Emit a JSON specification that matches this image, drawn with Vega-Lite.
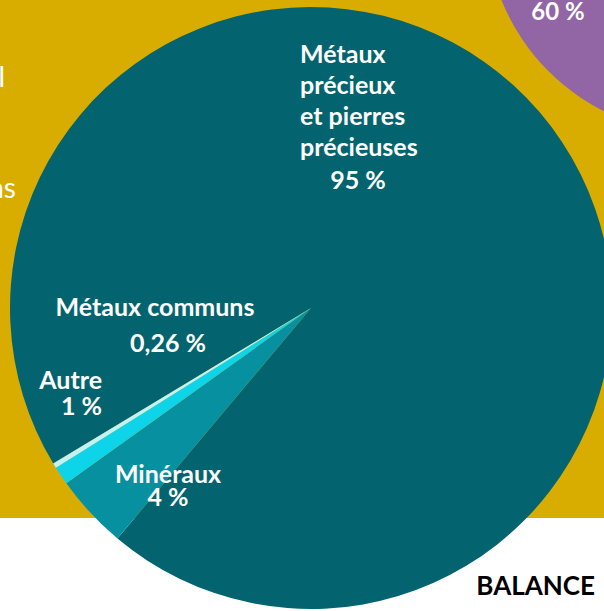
{
  "$schema": "https://vega.github.io/schema/vega-lite/v6.json",
  "width": 604,
  "height": 611,
  "autosize": {"type": "fit", "contains": "padding"},
  "padding": 0,
  "background": "white",
  "config": {"view": {"stroke": null}, "text": {"font": "Lato", "fontWeight": "bold", "fill": "white", "fontSize": 25}},
  "data": {"values": [
    {"category": "Métaux précieux et pierres précieuses", "value": 95},
    {"category": "Minéraux", "value": 4},
    {"category": "Autre", "value": 1},
    {"category": "Métaux communs", "value": 0.26}
  ]},
  "encoding": {
    "x": {"type": "quantitative", "scale": {"domain": [0, 604], "zero": false, "nice": false}, "axis": null},
    "y": {"type": "quantitative", "scale": {"domain": [0, 611], "zero": false, "nice": false, "reverse": true}, "axis": null}
  },
  "layer": [
    {
      "data": {"values": [{}]},
      "mark": {"type": "rect", "color": "#D8AD00"},
      "encoding": {"x": {"datum": 0}, "x2": {"datum": 604}, "y": {"datum": 0}, "y2": {"datum": 518}}
    },
    {
      "data": {"values": [{}]},
      "mark": {"type": "arc", "color": "#9265A5", "radius": 214, "theta": 0, "theta2": 6.2832, "clip": true},
      "encoding": {"x": {"datum": 700}, "y": {"datum": -80}}
    },
    {
      "data": {"values": [{"t": "60 %"}]},
      "mark": {"type": "text", "align": "center", "baseline": "alphabetic", "fontSize": 24},
      "encoding": {"x": {"datum": 558}, "y": {"datum": 19.5}, "text": {"field": "t"}}
    },
    {
      "data": {"values": [{"t": "Métaux communs"}]},
      "mark": {"type": "text", "align": "right", "baseline": "alphabetic", "fontWeight": "normal", "fontSize": 28, "clip": true},
      "encoding": {"x": {"datum": 16}, "y": {"datum": 198}, "text": {"field": "t"}}
    },
    {
      "data": {"values": [{"t": "Total"}]},
      "mark": {"type": "text", "align": "right", "baseline": "alphabetic", "fontWeight": "normal", "fontSize": 28, "clip": true},
      "encoding": {"x": {"datum": 5}, "y": {"datum": 87}, "text": {"field": "t"}}
    },
    {
      "mark": {"type": "arc", "radius": 301, "clip": true},
      "encoding": {
        "x": {"datum": 311},
        "y": {"datum": 308},
        "theta": {"field": "value", "type": "quantitative", "stack": true, "scale": {"range": [-2.1136, 4.1696]}},
        "order": {"field": "value", "sort": "descending"},
        "color": {"field": "category", "type": "nominal", "legend": null,
          "scale": {"domain": ["Métaux précieux et pierres précieuses", "Minéraux", "Autre", "Métaux communs"],
                    "range": ["#03646F", "#0790A0", "#0DD4E8", "#C2F2F5"]}}
      }
    },
    {
      "transform": [{"filter": "datum.category == 'Métaux précieux et pierres précieuses'"}, {"calculate": "'Métaux\\nprécieux\\net pierres\\nprécieuses'", "as": "t"}],
      "mark": {"type": "text", "align": "left", "baseline": "alphabetic", "lineBreak": "\n", "lineHeight": 31},
      "encoding": {"x": {"datum": 300}, "y": {"datum": 63}, "text": {"field": "t"}}
    },
    {
      "transform": [{"filter": "datum.category == 'Métaux précieux et pierres précieuses'"}, {"calculate": "format(datum.value, 'd') + ' %'", "as": "t"}],
      "mark": {"type": "text", "align": "center", "baseline": "alphabetic"},
      "encoding": {"x": {"datum": 358}, "y": {"datum": 189}, "text": {"field": "t"}}
    },
    {
      "transform": [{"filter": "datum.category == 'Métaux communs'"}],
      "mark": {"type": "text", "align": "center", "baseline": "alphabetic"},
      "encoding": {"x": {"datum": 155}, "y": {"datum": 316}, "text": {"field": "category"}}
    },
    {
      "transform": [{"filter": "datum.category == 'Métaux communs'"}, {"calculate": "replace(format(datum.value, '.2f'), '.', ',') + ' %'", "as": "t"}],
      "mark": {"type": "text", "align": "center", "baseline": "alphabetic"},
      "encoding": {"x": {"datum": 168}, "y": {"datum": 352}, "text": {"field": "t"}}
    },
    {
      "transform": [{"filter": "datum.category == 'Autre'"}, {"calculate": "datum.category + '\\n' + format(datum.value, 'd') + ' %'", "as": "t"}],
      "mark": {"type": "text", "align": "right", "baseline": "alphabetic", "lineBreak": "\n", "lineHeight": 26},
      "encoding": {"x": {"datum": 102}, "y": {"datum": 389}, "text": {"field": "t"}}
    },
    {
      "transform": [{"filter": "datum.category == 'Minéraux'"}, {"calculate": "datum.category + '\\n' + format(datum.value, 'd') + ' %'", "as": "t"}],
      "mark": {"type": "text", "align": "center", "baseline": "alphabetic", "lineBreak": "\n", "lineHeight": 23},
      "encoding": {"x": {"datum": 168}, "y": {"datum": 483}, "text": {"field": "t"}}
    },
    {
      "data": {"values": [{"t": "BALANCE"}]},
      "mark": {"type": "text", "align": "right", "baseline": "alphabetic", "fill": "black", "fontSize": 26},
      "encoding": {"x": {"datum": 595}, "y": {"datum": 595}, "text": {"field": "t"}}
    }
  ]
}
